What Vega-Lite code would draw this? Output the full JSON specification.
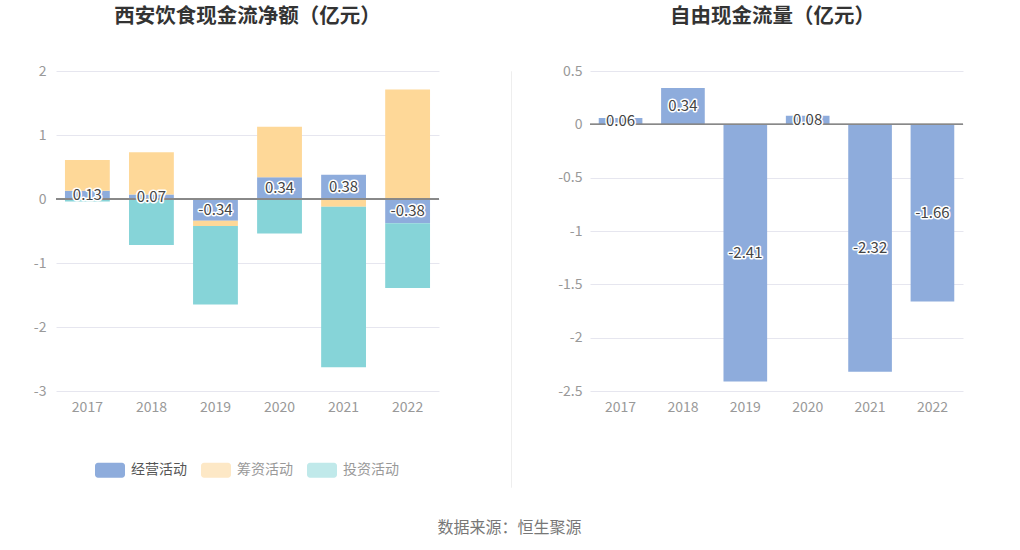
{
  "$schema": "https://vega.github.io/schema/vega-lite/v6.json",
  "padding": {"left": 33, "top": 6, "right": 5, "bottom": 5},
  "spacing": 42,
  "title": {"text": "数据来源：恒生聚源", "orient": "bottom", "anchor": "middle", "fontSize": 16, "fontWeight": "normal", "color": "#777777", "offset": 32, "dx": 11},
  "config": {
    "view": {"stroke": null},
    "font": "Noto Sans CJK SC",
    "axis": {"labelFont": "Noto Sans CJK SC", "labelFontSize": 14, "labelColor": "#999999", "gridColor": "#e6e6ef", "gridWidth": 1, "domain": false, "ticks": false, "title": null},
    "title": {"font": "Noto Sans CJK SC", "fontSize": 20.5, "fontWeight": "bold", "color": "#333333"}
  },
  "hconcat": [
    {
      "width": 383,
      "height": 320,
      "title": {"text": "西安饮食现金流净额（亿元）", "offset": 37, "anchor": "middle"},
      "data": {"values": [
        {"year": "2017", "type": "经营活动", "order": 1, "value": 0.13},
        {"year": "2017", "type": "筹资活动", "order": 2, "value": 0.48},
        {"year": "2017", "type": "投资活动", "order": 3, "value": -0.04},
        {"year": "2018", "type": "经营活动", "order": 1, "value": 0.07},
        {"year": "2018", "type": "筹资活动", "order": 2, "value": 0.66},
        {"year": "2018", "type": "投资活动", "order": 3, "value": -0.72},
        {"year": "2019", "type": "经营活动", "order": 1, "value": -0.34},
        {"year": "2019", "type": "筹资活动", "order": 2, "value": -0.08},
        {"year": "2019", "type": "投资活动", "order": 3, "value": -1.23},
        {"year": "2020", "type": "经营活动", "order": 1, "value": 0.34},
        {"year": "2020", "type": "筹资活动", "order": 2, "value": 0.79},
        {"year": "2020", "type": "投资活动", "order": 3, "value": -0.54},
        {"year": "2021", "type": "经营活动", "order": 1, "value": 0.38},
        {"year": "2021", "type": "筹资活动", "order": 2, "value": -0.12},
        {"year": "2021", "type": "投资活动", "order": 3, "value": -2.51},
        {"year": "2022", "type": "经营活动", "order": 1, "value": -0.38},
        {"year": "2022", "type": "筹资活动", "order": 2, "value": 1.71},
        {"year": "2022", "type": "投资活动", "order": 3, "value": -1.01}
      ]},
      "transform": [
        {"stack": "value", "groupby": ["year"], "sort": [{"field": "order", "order": "ascending"}], "as": ["v0", "v1"]},
        {"calculate": "(datum.v0 + datum.v1) / 2", "as": "mid"},
        {"calculate": "toString(datum.value)", "as": "label"}
      ],
      "encoding": {
        "x": {"field": "year", "type": "ordinal", "scale": {"paddingInner": 0.3, "paddingOuter": 0.14}, "axis": {"labelAngle": 0, "labelPadding": 9, "grid": false}}
      },
      "layer": [
        {
          "mark": {"type": "bar"},
          "encoding": {
            "y": {"field": "v0", "type": "quantitative", "scale": {"domain": [-3, 2], "nice": false}, "axis": {"values": [-3, -2, -1, 0, 1, 2], "labelExpr": "toString(datum.value)", "labelPadding": 10}},
            "y2": {"field": "v1"},
            "color": {"field": "type", "type": "nominal", "scale": {"domain": ["经营活动", "筹资活动", "投资活动"], "range": ["#8eacdc", "#fed898", "#86d4d8"]}, "legend": null}
          }
        },
        {
          "mark": {"type": "bar", "opacity": 0},
          "encoding": {
            "y": {"field": "v0", "type": "quantitative"},
            "y2": {"field": "v1"},
            "color": {"field": "type", "type": "nominal", "scale": {"domain": ["经营活动", "筹资活动", "投资活动"], "range": ["#8eacdc", "#fde8c6", "#c0e9ea"]},
              "legend": {"title": null, "orient": "none", "legendX": 39, "legendY": 384, "direction": "horizontal",
                "symbolType": "M-0.8,-0.5H0.8A0.2,0.2 0 0 1 1,-0.3V0.3A0.2,0.2 0 0 1 0.8,0.5H-0.8A0.2,0.2 0 0 1 -1,0.3V-0.3A0.2,0.2 0 0 1 -0.8,-0.5Z",
                "symbolSize": 900, "symbolOpacity": 1, "symbolStrokeWidth": 0, "labelFontSize": 14, "labelFont": "Noto Sans CJK SC",
                "labelColor": {"expr": "datum.label === '经营活动' ? '#555555' : '#999999'"}, "labelOffset": 6, "columnPadding": 14}}
          }
        },
        {
          "mark": {"type": "rule", "color": "#888888", "strokeWidth": 1},
          "encoding": {"y": {"datum": 0}, "x": {"value": 0}, "x2": {"value": "width"}}
        },
        {
          "transform": [{"filter": "datum.type === '经营活动'"}],
          "mark": {"type": "text", "fontSize": 15, "stroke": "#ffffff", "strokeWidth": 3, "strokeJoin": "round", "fill": "#ffffff"},
          "encoding": {"y": {"field": "mid", "type": "quantitative"}, "text": {"field": "label", "type": "nominal"}}
        },
        {
          "transform": [{"filter": "datum.type === '经营活动'"}],
          "mark": {"type": "text", "fontSize": 15, "fill": "#444444"},
          "encoding": {"y": {"field": "mid", "type": "quantitative"}, "text": {"field": "label", "type": "nominal"}}
        }
      ],
      "resolve": {"scale": {"color": "independent"}}
    },
    {
      "width": 0.01,
      "height": 416,
      "view": {"stroke": "#eeeeee"},
      "data": {"values": [{"v": 0}]},
      "mark": {"type": "point", "opacity": 0},
      "encoding": {"y": {"field": "v", "type": "quantitative", "axis": {"title": "|", "titleColor": "transparent", "titleFontSize": 10, "titlePadding": 18, "labels": false, "ticks": false, "domain": false, "grid": false}}}
    },
    {
      "width": 373,
      "height": 320,
      "title": {"text": "自由现金流量（亿元）", "offset": 37, "anchor": "middle", "dx": -4},
      "data": {"values": [
        {"year": "2017", "value": 0.06},
        {"year": "2018", "value": 0.34},
        {"year": "2019", "value": -2.41},
        {"year": "2020", "value": 0.08},
        {"year": "2021", "value": -2.32},
        {"year": "2022", "value": -1.66}
      ]},
      "transform": [
        {"calculate": "datum.value / 2", "as": "mid"},
        {"calculate": "toString(datum.value)", "as": "label"}
      ],
      "encoding": {
        "x": {"field": "year", "type": "ordinal", "scale": {"paddingInner": 0.3, "paddingOuter": 0.14}, "axis": {"labelAngle": 0, "labelPadding": 9, "grid": false}}
      },
      "layer": [
        {
          "mark": {"type": "bar", "color": "#8eacdc"},
          "encoding": {
            "y": {"field": "value", "type": "quantitative", "scale": {"domain": [-2.5, 0.5], "nice": false}, "axis": {"values": [-2.5, -2, -1.5, -1, -0.5, 0, 0.5], "labelExpr": "toString(datum.value)", "labelPadding": 8}}
          }
        },
        {
          "mark": {"type": "rule", "color": "#888888", "strokeWidth": 1},
          "encoding": {"y": {"datum": 0}, "x": {"value": 0}, "x2": {"value": "width"}}
        },
        {
          "mark": {"type": "text", "fontSize": 15, "stroke": "#ffffff", "strokeWidth": 3, "strokeJoin": "round", "fill": "#ffffff"},
          "encoding": {"y": {"field": "mid", "type": "quantitative"}, "text": {"field": "label", "type": "nominal"}}
        },
        {
          "mark": {"type": "text", "fontSize": 15, "fill": "#444444"},
          "encoding": {"y": {"field": "mid", "type": "quantitative"}, "text": {"field": "label", "type": "nominal"}}
        }
      ]
    }
  ]
}
